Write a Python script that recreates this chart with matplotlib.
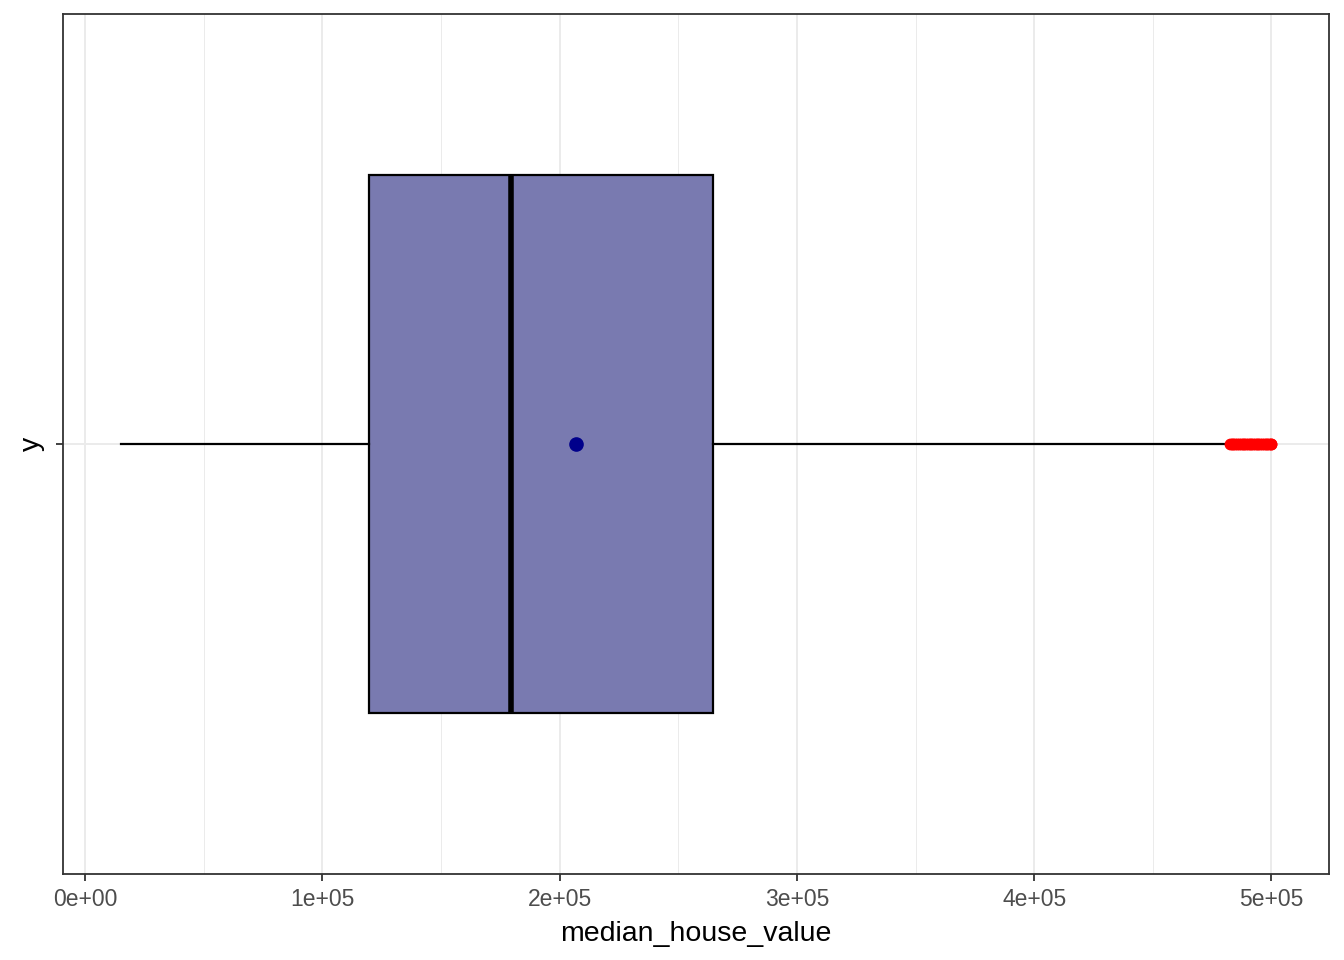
import matplotlib
matplotlib.use("Agg")
import matplotlib.pyplot as plt
import numpy as np

plt.rcParams['font.family'] = ['Liberation Sans', 'DejaVu Sans']

# Box statistics for median_house_value
category = ["y"]
whisker_low = 14999
q1 = 119600
median = 179700
q3 = 264725
whisker_high = 482200
mean_value = 206856
outliers = [482700, 483300, 484000, 484800, 485500, 486300, 487000, 487800,
            488500, 489300, 490000, 490800, 491500, 492300, 493000, 493800,
            494500, 495300, 496000, 496800, 497500, 498300, 499000, 499700,
            500001]

x_ticks = [0, 100000, 200000, 300000, 400000, 500000]
x_tick_labels = ["0e+00", "1e+05", "2e+05", "3e+05", "4e+05", "5e+05"]
x_minor = [50000, 150000, 250000, 350000, 450000]

fig = plt.figure(figsize=(13.44, 9.6), dpi=100)
ax = fig.add_axes([63/1344, 86/960, (1329-63)/1344, (874-14)/960])

stats = [dict(med=median, q1=q1, q3=q3, whislo=whisker_low, whishi=whisker_high,
              mean=mean_value, fliers=outliers, label=category[0])]
bp = ax.bxp(stats, positions=[1], widths=0.75, vert=False, patch_artist=True,
            showmeans=True, showcaps=False, zorder=3,
            boxprops=dict(facecolor='#797AB0', edgecolor='black', linewidth=1.6),
            medianprops=dict(color='black', linewidth=4, solid_capstyle='butt'),
            whiskerprops=dict(color='black', linewidth=1.6),
            flierprops=dict(marker='o', markerfacecolor='red', markeredgecolor='red',
                            markersize=7.5),
            meanprops=dict(marker='o', markerfacecolor='#00008B', markeredgecolor='#00008B',
                           markersize=9.5))

rng = whisker_low, 500001
span = rng[1] - rng[0]
ax.set_xlim(rng[0] - 0.05 * span, rng[1] + 0.05 * span)
ax.set_ylim(0.4, 1.6)

ax.set_xticks(x_ticks)
ax.set_xticklabels(x_tick_labels)
ax.set_xticks(x_minor, minor=True)
ax.set_yticks([1])
ax.set_yticklabels(category, rotation=90, va='center')

for v in x_ticks:
    ax.axvline(v, color='#EBEBEB', linewidth=1.4, zorder=0)
for v in x_minor:
    ax.axvline(v, color='#EBEBEB', linewidth=0.7, zorder=0)
ax.axhline(1, color='#EBEBEB', linewidth=1.4, zorder=0)

for s in ax.spines.values():
    s.set_color('#333333')
    s.set_linewidth(1.3)

ax.tick_params(axis='both', which='major', length=5, width=1.3, color='#333333',
               labelsize=16.5, labelcolor='#4D4D4D', pad=5)
ax.tick_params(axis='x', which='minor', length=0)
ax.tick_params(axis='y', labelsize=20.5, labelcolor='black', pad=8)

ax.set_xlabel("median_house_value", fontsize=20.5, color='black', labelpad=7)

fig.savefig("out.png", dpi=100)
